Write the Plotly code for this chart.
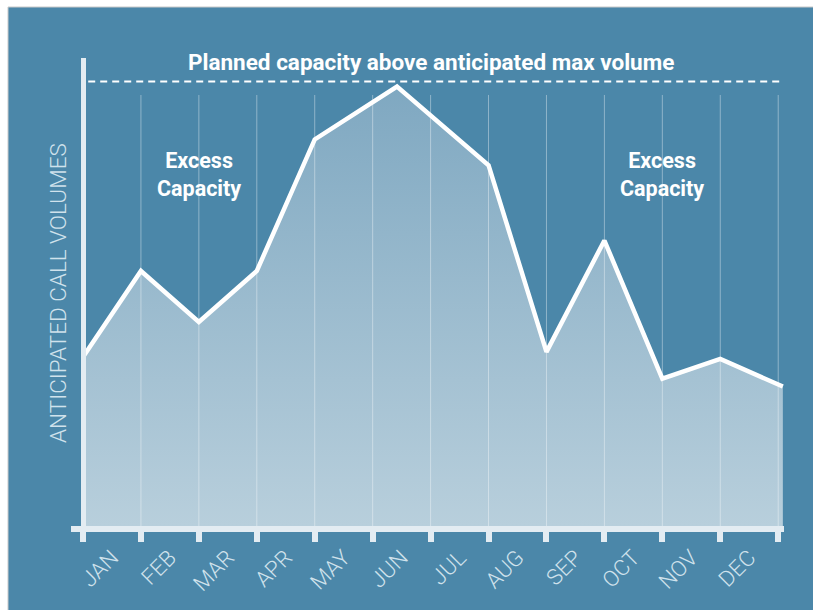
import plotly.graph_objects as go

# ---- data ----
months = ["JAN", "FEB", "MAR", "APR", "MAY", "JUN", "JUL", "AUG", "SEP", "OCT", "NOV", "DEC"]
month_pos = [0.5, 1.5, 2.5, 3.5, 4.5, 5.5, 6.5, 7.5, 8.5, 9.5, 10.5, 11.5]
boundary_pos = [0, 1, 2, 3, 4, 5, 6, 7, 8, 9, 10, 11, 12]
volume_x = [0, 1, 2, 3, 4, 5.42, 7, 8, 9, 10, 11, 12.08]
volume_y = [36.1, 54.5, 43.6, 54.5, 82.6, 93.9, 77.1, 37.2, 61.0, 31.5, 35.7, 29.8]
capacity_x = [0.09, 12.02]
capacity_y = [95.0, 95.0]
grid_top = 92.1
excess_x = [2.0, 10.0]
excess_y = [75.2, 75.2]

BG = "#4b87a9"
AXIS = "#e3ecf2"
LABEL = "#d0e2ec"

# plot-area pixel geometry (for paper-coordinate helpers)
L, R, T, B = 71, 784, 58, 526
W, H = R - L, B - T


def px(xp):
    return (xp - L) / W


def py(yp):
    return (B - yp) / H


fig = go.Figure()

# filled area
fig.add_trace(go.Scatter(
    x=volume_x, y=volume_y, mode="lines", line=dict(width=0),
    fill="tozeroy",
    fillgradient=dict(type="vertical", start=0, stop=max(volume_y),
                      colorscale=[[0, "#b8cfdc"], [1, "#7fa8c1"]]),
    hoverinfo="skip", showlegend=False))

# vertical grid lines
gx, gy = [], []
for b in boundary_pos[1:]:
    gx += [b, b, None]
    gy += [0, grid_top, None]
fig.add_trace(go.Scatter(x=gx, y=gy, mode="lines",
                         line=dict(color="rgba(255,255,255,0.38)", width=1),
                         hoverinfo="skip", showlegend=False))

# capacity dashed line
fig.add_trace(go.Scatter(x=capacity_x, y=capacity_y, mode="lines",
                         line=dict(color="white", width=2, dash="7px,5px"),
                         hoverinfo="skip", showlegend=False))

# volume line
fig.add_trace(go.Scatter(x=volume_x, y=volume_y, mode="lines",
                         line=dict(color="white", width=4.5),
                         hoverinfo="skip", showlegend=False))

fig.update_layout(
    width=813, height=610,
    margin=dict(l=L, r=813 - R, t=T, b=610 - B),
    paper_bgcolor="white",
    plot_bgcolor="rgba(0,0,0,0)",
    showlegend=False,
    xaxis=dict(
        range=[-0.207, 12.10],
        showgrid=False, zeroline=False,
        showline=True, linecolor=AXIS, linewidth=6,
        tickmode="array", tickvals=month_pos, ticktext=months,
        ticks="", tickangle=-45, ticklabelstandoff=4,
        tickfont=dict(family="Roboto", size=22, color=LABEL, weight=300),
        minor=dict(tickmode="array", tickvals=boundary_pos, ticks="outside",
                   ticklen=10, tickwidth=6, tickcolor=AXIS, showgrid=False),
    ),
    yaxis=dict(
        range=[0, 100], anchor="free", position=px(83),
        showgrid=False, zeroline=False,
        showline=True, linecolor=AXIS, linewidth=5,
        showticklabels=False, ticks="",
    ),
    shapes=[dict(type="rect", xref="paper", yref="paper",
                 x0=px(8), x1=px(840), y0=py(640), y1=py(7),
                 fillcolor=BG, line=dict(color="#c9c9c9", width=1),
                 layer="below")],
    annotations=[
        dict(text="Planned capacity above anticipated max volume",
             xref="paper", yref="paper", x=px(431), y=py(62),
             xanchor="center", yanchor="middle", showarrow=False,
             font=dict(family="Roboto", size=22.5, color="white", weight=700)),
        dict(text="ANTICIPATED CALL VOLUMES",
             xref="paper", yref="paper", x=px(58), y=py(293),
             xanchor="center", yanchor="middle", showarrow=False, textangle=-90,
             font=dict(family="Roboto", size=22.5, color=LABEL, weight=300)),
    ] + [
        dict(text="Excess<br>Capacity", x=ex, y=ey, xref="x", yref="y",
             xanchor="center", yanchor="middle", showarrow=False,
             font=dict(family="Roboto", size=21.5, color="white", weight=700))
        for ex, ey in zip(excess_x, excess_y)
    ],
)

fig.write_html("out.html")
